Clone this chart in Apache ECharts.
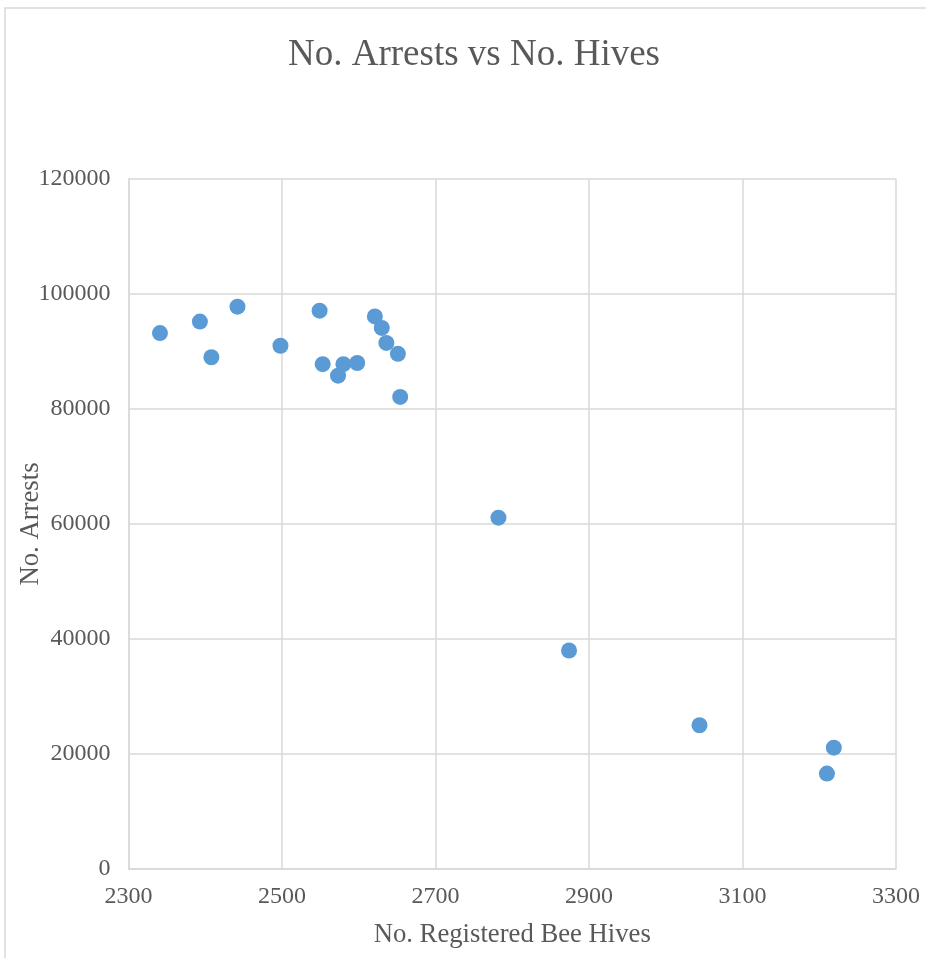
<!DOCTYPE html>
<html>
<head>
<meta charset="utf-8">
<script src="https://cdn.jsdelivr.net/npm/echarts@6/dist/echarts.min.js"></script>
<style>
html,body{margin:0;padding:0;background:#fff;}
#chart{width:926px;height:958px;}
</style>
</head>
<body>
<div id="chart"></div>
<script>
// Data
var hives = [2341, 2393, 2442, 2408, 2498, 2549, 2553, 2580, 2573, 2598, 2621, 2630, 2636, 2651, 2654, 2782, 2874, 3044, 3219, 3210];
var arrests = [93200, 95200, 97800, 89000, 91000, 97100, 87800, 87800, 85800, 88000, 96100, 94100, 91500, 89600, 82100, 61100, 38000, 25000, 21100, 16600];
var xTicks = [2300, 2500, 2700, 2900, 3100, 3300];
var yTicks = [0, 20000, 40000, 60000, 80000, 100000, 120000];

var points = hives.map(function (h, i) { return [h, arrests[i]]; });
var textColor = '#595959';
var gridColor = '#d9d9d9';
var fontFam = '"Liberation Serif", "Times New Roman", serif';
function plain(v) { return String(v); }

var chart = echarts.init(document.getElementById('chart'), null, {renderer: 'canvas'});
chart.setOption({
  animation: false,
  backgroundColor: '#ffffff',
  title: {
    text: 'No. Arrests vs No. Hives',
    left: 469,
    top: 32,
    textAlign: 'center',
    textStyle: {fontFamily: fontFam, fontSize: 37, fontWeight: 'normal', color: textColor}
  },
  graphic: [{
    type: 'rect',
    shape: {x: 5, y: 8, width: 1000, height: 1000},
    style: {fill: 'none', stroke: gridColor, lineWidth: 1.5},
    silent: true
  }],
  grid: {left: 128.5, right: 30, top: 179, bottom: 89, containLabel: false, outerBoundsMode: 'none'},
  xAxis: {
    type: 'value',
    min: xTicks[0],
    max: xTicks[xTicks.length - 1],
    interval: xTicks[1] - xTicks[0],
    name: 'No. Registered Bee Hives',
    nameLocation: 'middle',
    nameGap: 52,
    nameMoveOverlap: false,
    nameTextStyle: {fontFamily: fontFam, fontSize: 26.7, color: textColor},
    axisLine: {show: true, lineStyle: {color: gridColor, width: 1.5}},
    axisTick: {show: false},
    splitLine: {show: true, lineStyle: {color: gridColor, width: 1.5}},
    axisLabel: {fontFamily: fontFam, fontSize: 24, color: textColor, margin: 16, formatter: plain}
  },
  yAxis: {
    type: 'value',
    min: yTicks[0],
    max: yTicks[yTicks.length - 1],
    interval: yTicks[1] - yTicks[0],
    name: 'No. Arrests',
    nameLocation: 'middle',
    nameGap: 84,
    nameMoveOverlap: false,
    nameTextStyle: {fontFamily: fontFam, fontSize: 26.7, color: textColor},
    axisLine: {show: true, lineStyle: {color: gridColor, width: 1.5}},
    axisTick: {show: false},
    splitLine: {show: true, lineStyle: {color: gridColor, width: 1.5}},
    axisLabel: {fontFamily: fontFam, fontSize: 24, color: textColor, margin: 18, formatter: plain}
  },
  series: [{
    type: 'scatter',
    data: points,
    symbol: 'circle',
    symbolSize: 16,
    itemStyle: {color: '#5b9bd5', opacity: 1}
  }]
});
</script>
</body>
</html>
